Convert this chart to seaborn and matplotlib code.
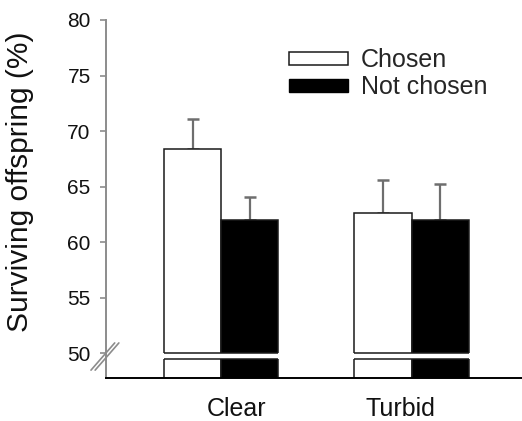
import matplotlib
matplotlib.use("Agg")
import matplotlib.pyplot as plt
import matplotlib.patches as mpatches
import matplotlib.transforms as mtransforms
import numpy as np
import pandas as pd
import seaborn as sns

# ── data ──────────────────────────────────────────────────────────────
conditions = ["Clear", "Turbid"]
choices = ["Chosen", "Not chosen"]
survival = {"Chosen": [68.35, 62.6], "Not chosen": [62.0, 62.0]}
sem = {"Chosen": [2.75, 3.0], "Not chosen": [2.1, 3.2]}
yticks = [50, 55, 60, 65, 70, 75, 80]

df = pd.DataFrame(
    [(c, ch, survival[ch][i], sem[ch][i])
     for ch in choices for i, c in enumerate(conditions)],
    columns=["condition", "choice", "value", "se"],
)

sns.set_style("white")
plt.rcParams["font.family"] = ["Liberation Sans", "DejaVu Sans"]

fig = plt.figure(figsize=(5.22, 4.21), dpi=100)
ax = fig.add_axes([0.203, 0.1021, 0.797, 0.8504])

palette = {"Chosen": "white", "Not chosen": "black"}
sns.barplot(
    data=df, x="condition", y="value", hue="choice",
    order=conditions, hue_order=choices, palette=palette,
    edgecolor="#1a1a1a", linewidth=1.1, width=0.6,
    errorbar=None, legend=False, ax=ax,
)
bar_groups = list(ax.containers)

# upward-only error bars, placed at the bar centres
for bar_group, ch in zip(bar_groups, choices):
    for patch, (_, row) in zip(bar_group, df[df.choice == ch].iterrows()):
        xc = patch.get_x() + patch.get_width() / 2
        ax.errorbar(
            xc, row.value, yerr=[[0], [row.se]], fmt="none",
            ecolor="#6e6e6e", elinewidth=1.6, capsize=4, capthick=1.8,
            zorder=0.5,
        )

# axis break: white gap through the bars + edge lines
y_lo, y_gap_lo, y_gap_hi = 47.75, 49.45, 50.0
ax.axhspan(y_gap_lo, y_gap_hi, color="white", zorder=2, lw=0)
for patch in [p for c in bar_groups for p in c]:
    x0, w = patch.get_x(), patch.get_width()
    ax.hlines([y_gap_lo, y_gap_hi], x0, x0 + w, color="#1a1a1a", lw=1.1, zorder=3)

ax.set_ylim(y_lo, 80)
ax.set_xlim(-0.605, 1.58)
ax.set_yticks(yticks)
ax.set_yticklabels([str(t) for t in yticks])

sns.despine(ax=ax)
ax.spines["left"].set_color("#8c8c8c")
ax.spines["left"].set_linewidth(1.4)
ax.spines["bottom"].set_color("black")
ax.spines["bottom"].set_linewidth(1.4)

ax.tick_params(axis="y", left=True, length=4, width=1.2, color="#8c8c8c",
               pad=7, labelsize=15, labelcolor="#111111")
ax.tick_params(axis="x", bottom=False, length=0, pad=14, labelsize=18,
               labelcolor="#111111")
# the category labels sit slightly off the group centres in the original
for lab, dx in zip(ax.get_xticklabels(), (15, -11)):
    lab.set_transform(lab.get_transform() +
                      mtransforms.ScaledTranslation(dx / 100, 0, fig.dpi_scale_trans))
ax.set_xlabel("")
ax.set_ylabel("Surviving offspring (%)", fontsize=21.5, color="#111111")
ax.yaxis.set_label_coords(-0.172, 0.547)

# break marks on the y axis
for dx in (-0.01, 0.0):
    ax.plot([-0.026 + dx, 0.031 + dx], [0.022, 0.098],
            transform=ax.transAxes, color="#8c8c8c", lw=1.2, clip_on=False)

handles = [
    mpatches.Patch(facecolor="white", edgecolor="#1a1a1a", linewidth=1.1, label="Chosen"),
    mpatches.Patch(facecolor="black", edgecolor="black", label="Not chosen"),
]
fig.legend(
    handles=handles, loc="upper left", bbox_to_anchor=(0.553, 0.885),
    bbox_transform=fig.transFigure, frameon=False, fontsize=18,
    handlelength=2.36, handleheight=0.42, handletextpad=0.52,
    labelspacing=0.12, borderpad=0, borderaxespad=0,
)

fig.savefig("out.png", dpi=100)
